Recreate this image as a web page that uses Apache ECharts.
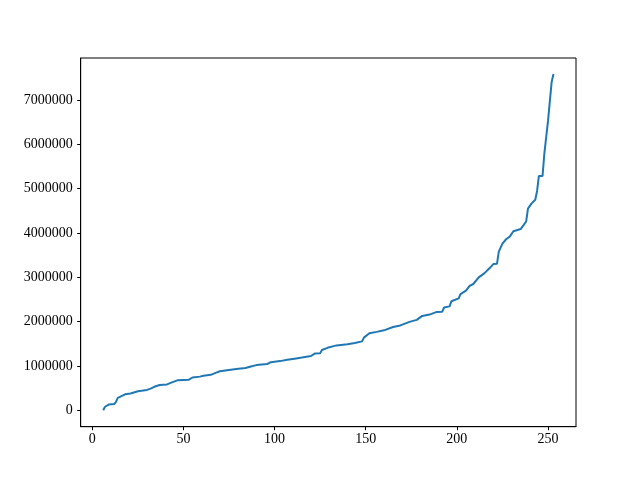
<!DOCTYPE html>
<html>
<head>
<meta charset="utf-8">
<script src="https://cdn.jsdelivr.net/npm/echarts@6/dist/echarts.min.js"></script>
<style>
  html, body { margin: 0; padding: 0; background: #fff; }
  #chart { width: 640px; height: 480px; }
</style>
</head>
<body>
<div id="chart"></div>
<script>
// values
const xValues = [6, 7, 9, 12, 13, 14, 15, 18, 21, 22, 25, 30, 32, 34, 37, 41, 43, 44, 47, 53,
  55, 59, 61, 65, 68, 70, 74, 79, 84, 87, 90, 96, 98, 103, 107, 111, 115, 120, 122, 125,
  126, 129, 134, 140, 144, 148, 149, 150, 152, 156, 160, 161, 165, 169, 174, 178, 181, 185, 189, 192,
  193, 196, 197, 201, 202, 205, 207, 209, 212, 215, 218, 220, 222, 223, 225, 227, 229, 231, 235, 238,
  239, 241, 243, 244, 245, 247, 248, 250, 251, 252, 253];
const yValues = [0, 80000, 130000, 140000, 190000, 280000, 320000, 360000, 380000, 410000,
  430000, 460000, 490000, 530000, 570000, 585000, 620000, 650000, 680000, 690000,
  740000, 760000, 780000, 800000, 850000, 880000, 905000, 930000, 955000, 990000,
  1020000, 1045000, 1085000, 1110000, 1140000, 1165000, 1190000, 1225000, 1280000, 1290000,
  1360000, 1410000, 1465000, 1490000, 1520000, 1555000, 1640000, 1670000, 1740000, 1770000,
  1805000, 1830000, 1880000, 1915000, 1995000, 2040000, 2130000, 2160000, 2220000, 2225000,
  2320000, 2345000, 2460000, 2525000, 2620000, 2700000, 2810000, 2850000, 3000000, 3090000,
  3210000, 3300000, 3305000, 3580000, 3760000, 3860000, 3920000, 4040000, 4090000, 4260000,
  4550000, 4670000, 4750000, 4950000, 5290000, 5290000, 5800000, 6530000, 6530000, 7410000, 7590000];
const xTicks = [0, 50, 100, 150, 200, 250];
const yTicks = [0, 1000000, 2000000, 3000000, 4000000, 5000000, 6000000, 7000000];

const points = xValues.map((x, i) => [x, yValues[i]]);

const font = "'Liberation Serif', 'DejaVu Serif', serif";

const chart = echarts.init(document.getElementById('chart'), null, { renderer: 'canvas' });
chart.setOption({
  animation: false,
  grid: {
    left: 80.7, right: 64, top: 58, bottom: 53.3,
    show: true, borderColor: '#000', borderWidth: 1, backgroundColor: 'transparent'
  },
  xAxis: {
    type: 'value',
    min: -6.35,
    max: 265.35,
    splitLine: { show: false },
    axisLine: { show: true, onZero: false, lineStyle: { color: '#000', width: 1 } },
    axisTick: { show: true, length: 3.5, lineStyle: { color: '#000' }, customValues: xTicks },
    axisLabel: {
      color: '#000', fontFamily: font, fontSize: 14, margin: 6, customValues: xTicks,
      formatter: v => String(v)
    }
  },
  yAxis: {
    type: 'value',
    min: -370000,
    max: 7950000,
    splitLine: { show: false },
    axisLine: { show: true, onZero: false, lineStyle: { color: '#000', width: 1 } },
    axisTick: { show: true, length: 3.5, lineStyle: { color: '#000' }, customValues: yTicks },
    axisLabel: {
      color: '#000', fontFamily: font, fontSize: 14, margin: 8, customValues: yTicks,
      formatter: v => String(v)
    }
  },
  series: [{
    type: 'line',
    data: points,
    showSymbol: false,
    lineStyle: { color: '#1f77b4', width: 2 },
    itemStyle: { color: '#1f77b4' }
  }]
});
</script>
</body>
</html>
